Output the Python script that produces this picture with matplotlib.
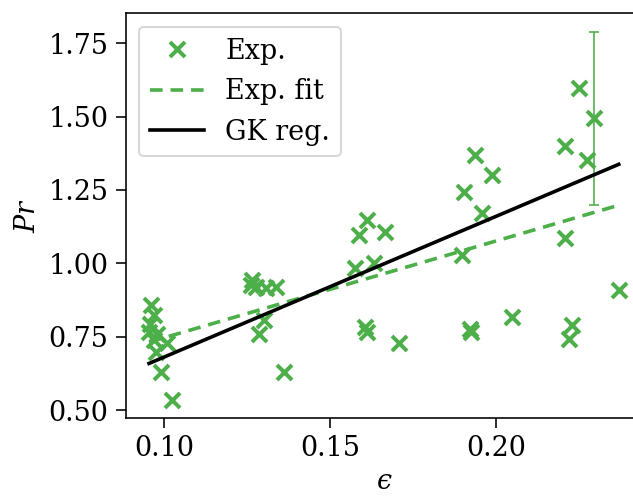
import numpy as np
import matplotlib
matplotlib.use("Agg")
import matplotlib.pyplot as plt

# measured points (epsilon, Pr)
eps = [0.0960, 0.0970, 0.0958, 0.0955, 0.0980, 0.0970, 0.1010, 0.0975, 0.0990, 0.1025,
       0.1266, 0.1261, 0.1276, 0.1306, 0.1336, 0.1301, 0.1286, 0.1361,
       0.1611, 0.1586, 0.1666, 0.1576, 0.1631, 0.1606, 0.1611, 0.1706,
       0.2247, 0.2295, 0.2207, 0.2273, 0.1937, 0.1987, 0.1902, 0.1957,
       0.2207, 0.1897, 0.2368, 0.2047, 0.1922, 0.1925, 0.2228, 0.2218]
pr = [0.858, 0.824, 0.795, 0.767, 0.761, 0.739, 0.727, 0.699, 0.630, 0.535,
      0.943, 0.926, 0.920, 0.915, 0.920, 0.807, 0.761, 0.630,
      1.148, 1.096, 1.108, 0.983, 1.000, 0.784, 0.767, 0.727,
      1.597, 1.494, 1.398, 1.352, 1.369, 1.301, 1.244, 1.170,
      1.085, 1.028, 0.909, 0.818, 0.778, 0.767, 0.790, 0.744]

# error bar shown on one point
err_idx = 27
err_val = 0.295

# linear fits  Pr = a + b*eps
fit_a, fit_b = 0.4165, 3.30   # Exp. fit
gk_a, gk_b = 0.2006, 4.80     # GK reg.

green = "#4daf4a"

plt.rcParams["font.family"] = "DejaVu Serif"
plt.rcParams["mathtext.fontset"] = "dejavuserif"
plt.rcParams["font.size"] = 13.5

fig = plt.figure(figsize=(633 / 144, 497 / 144), dpi=144)
ax = fig.add_axes([0.1983, 0.1584, 0.8163, 0.8149])

ax.plot(eps, pr, "x", color=green, ms=7.5, mew=2, label="Exp.")
ax.errorbar(eps[err_idx], pr[err_idx], yerr=err_val, fmt="none",
            ecolor=green, elinewidth=0.8, capsize=2.5, capthick=0.8)

xs = np.array([min(eps), max(eps)])
ax.plot(xs, fit_a + fit_b * xs, color=green, lw=1.8, dashes=(3.5, 2.2),
        label="Exp. fit")
ax.plot(xs, gk_a + gk_b * xs, "-", color="black", lw=1.8, label="GK reg.")

ax.set_xticks([0.10, 0.15, 0.20])
ax.set_yticks([0.50, 0.75, 1.00, 1.25, 1.50, 1.75])
ax.tick_params(length=5)
ax.set_xlabel("$ϵ$", labelpad=3)
ax.set_ylabel(r"$Pr$")
ax.legend(loc="upper left")

fig.savefig("out.png", dpi=144)
